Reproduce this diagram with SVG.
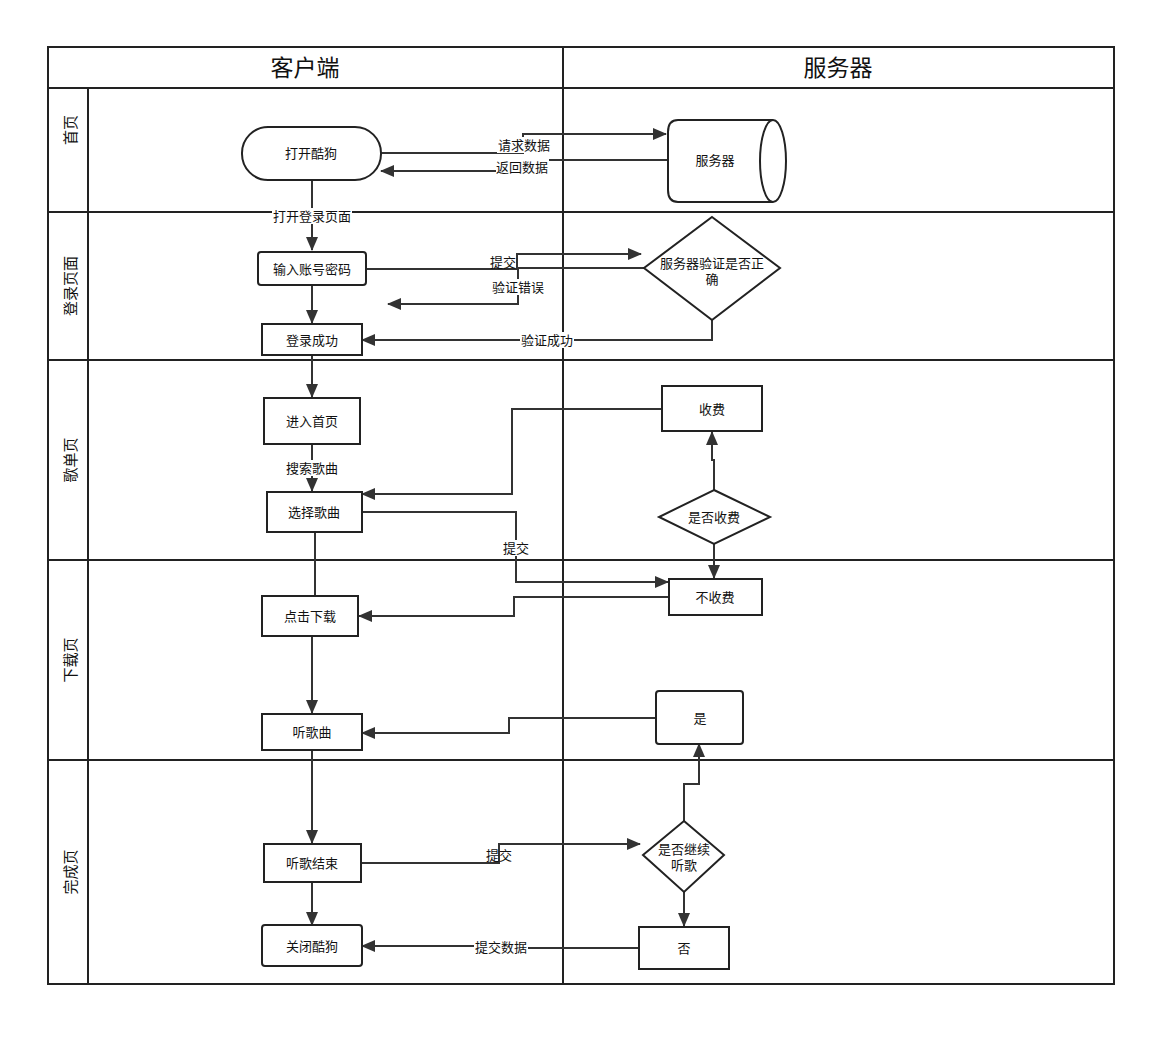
<svg xmlns="http://www.w3.org/2000/svg" width="1176" height="1047" viewBox="0 0 1176 1047">
<style>
text{font-family:"Liberation Sans","Noto Sans CJK SC",sans-serif;fill:#111;text-anchor:middle;dominant-baseline:central}
.n{font-size:13px}
.h{font-size:23px}
.l{font-size:15px}
.box{fill:#fff;stroke:#222;stroke-width:2}
.frame{fill:none;stroke:#222;stroke-width:2}
.c{fill:none;stroke:#333;stroke-width:2}
.bg{fill:#fff}
</style>
<defs>
<marker id="a" markerUnits="userSpaceOnUse" markerWidth="14" markerHeight="12" refX="13" refY="6" orient="auto"><path d="M0,0 L14,6 L0,12 Z" fill="#333"/></marker>
</defs>
<rect width="1176" height="1047" fill="#fff"/>
<g id="frame">
<rect class="frame" x="48" y="47" width="1066" height="937"/>
<line class="frame" x1="48" y1="88" x2="1114" y2="88"/>
<line class="frame" x1="563" y1="47" x2="563" y2="984"/>
<line class="frame" x1="88" y1="88" x2="88" y2="984"/>
<line class="frame" x1="48" y1="212" x2="1114" y2="212"/>
<line class="frame" x1="48" y1="360" x2="1114" y2="360"/>
<line class="frame" x1="48" y1="560" x2="1114" y2="560"/>
<line class="frame" x1="48" y1="760" x2="1114" y2="760"/>
<text class="h" x="305" y="68">客户端</text>
<text class="h" x="838" y="68">服务器</text>
<text class="l" transform="translate(70,130) rotate(-90)">首页</text>
<text class="l" transform="translate(70,286) rotate(-90)">登录页面</text>
<text class="l" transform="translate(70,460) rotate(-90)">歌单页</text>
<text class="l" transform="translate(70,660) rotate(-90)">下载页</text>
<text class="l" transform="translate(70,872) rotate(-90)">完成页</text>
</g>
<g id="connectors">
<path class="c" d="M381,153 H523 V134 H666" marker-end="url(#a)"/>
<path class="c" d="M668,160 H522 V171 H381" marker-end="url(#a)"/>
<path class="c" d="M312,180 V250" marker-end="url(#a)"/>
<path class="c" d="M366,269 H517 V254 H641" marker-end="url(#a)"/>
<path class="c" d="M644,268 H518 V304 H388" marker-end="url(#a)"/>
<path class="c" d="M312,285 V323" marker-end="url(#a)"/>
<path class="c" d="M712,320 V340 H362" marker-end="url(#a)"/>
<path class="c" d="M312,355 V397" marker-end="url(#a)"/>
<path class="c" d="M312,444 V491" marker-end="url(#a)"/>
<path class="c" d="M714,490 V460 H712 V432" marker-end="url(#a)"/>
<path class="c" d="M662,409 H512 V494 H362" marker-end="url(#a)"/>
<path class="c" d="M362,512 H516 V582 H668" marker-end="url(#a)"/>
<path class="c" d="M714,544 V578" marker-end="url(#a)"/>
<path class="c" d="M669,597 H514 V616 H359" marker-end="url(#a)"/>
<path class="c" d="M315,532 V596"/>
<path class="c" d="M312,636 V713" marker-end="url(#a)"/>
<path class="c" d="M656,718 H509 V733 H362" marker-end="url(#a)"/>
<path class="c" d="M684,821 V784 H699 V744" marker-end="url(#a)"/>
<path class="c" d="M312,750 V843" marker-end="url(#a)"/>
<path class="c" d="M361,863 H499 V844 H640" marker-end="url(#a)"/>
<path class="c" d="M312,882 V925" marker-end="url(#a)"/>
<path class="c" d="M684,892 V926" marker-end="url(#a)"/>
<path class="c" d="M639,948 H501 V946 H362" marker-end="url(#a)"/>
<rect class="bg" x="497" y="137" width="54" height="16"/>
<text class="n" x="524" y="145">请求数据</text>
<rect class="bg" x="496" y="159" width="53" height="16"/>
<text class="n" x="522" y="167">返回数据</text>
<rect class="bg" x="272" y="208" width="80" height="16"/>
<text class="n" x="312" y="216">打开登录页面</text>
<text class="n" x="503" y="262">提交</text>
<rect class="bg" x="491" y="279" width="54" height="16"/>
<text class="n" x="518" y="287">验证错误</text>
<rect class="bg" x="520" y="332" width="54" height="16"/>
<text class="n" x="547" y="340">验证成功</text>
<rect class="bg" x="285" y="460" width="54" height="16"/>
<text class="n" x="312" y="468">搜索歌曲</text>
<rect class="bg" x="502" y="540" width="28" height="16"/>
<text class="n" x="516" y="548">提交</text>
<text class="n" x="499" y="855">提交</text>
<rect class="bg" x="474" y="939" width="54" height="16"/>
<text class="n" x="501" y="947">提交数据</text>
</g>
<g id="n-open"><rect class="box" x="242" y="127" width="139" height="53" rx="26"/><text class="n" x="311" y="153">打开酷狗</text></g>
<g id="n-server">
<path class="box" d="M678,120 H773 A13,41 0 0 1 773,202 H678 Q668,202 668,190 V132 Q668,120 678,120 Z"/>
<path class="c" style="stroke:#222" d="M773,120 A13,41 0 0 0 773,202"/>
<text class="n" x="715" y="160">服务器</text>
</g>
<g id="n-input"><rect class="box" x="258" y="252" width="108" height="33" rx="3"/><text class="n" x="312" y="269">输入账号密码</text></g>
<g id="n-verify"><path class="box" d="M712,217 L780,268 L712,320 L644,268 Z"/><text class="n" x="712" y="263">服务器验证是否正</text><text class="n" x="712" y="279">确</text></g>
<g id="n-login-ok"><rect class="box" x="262" y="324" width="100" height="31"/><text class="n" x="312" y="340">登录成功</text></g>
<g id="n-home"><rect class="box" x="264" y="398" width="96" height="46"/><text class="n" x="312" y="421">进入首页</text></g>
<g id="n-select"><rect class="box" x="267" y="492" width="95" height="40"/><text class="n" x="314" y="512">选择歌曲</text></g>
<g id="n-charge"><rect class="box" x="662" y="386" width="100" height="45"/><text class="n" x="712" y="409">收费</text></g>
<g id="n-ischarge"><path class="box" d="M714,490 L770,517 L714,544 L659,517 Z"/><text class="n" x="714" y="517">是否收费</text></g>
<g id="n-free"><rect class="box" x="669" y="579" width="93" height="36"/><text class="n" x="715" y="597">不收费</text></g>
<g id="n-download"><rect class="box" x="262" y="596" width="96" height="40"/><text class="n" x="310" y="616">点击下载</text></g>
<g id="n-listen"><rect class="box" x="262" y="714" width="100" height="36"/><text class="n" x="312" y="732">听歌曲</text></g>
<g id="n-yes"><rect class="box" x="656" y="691" width="87" height="53" rx="3"/><text class="n" x="700" y="718">是</text></g>
<g id="n-continue"><path class="box" d="M684,821 L724,855 L684,892 L643,855 Z"/><text class="n" x="684" y="849">是否继续</text><text class="n" x="684" y="865">听歌</text></g>
<g id="n-end"><rect class="box" x="264" y="844" width="97" height="38"/><text class="n" x="312" y="863">听歌结束</text></g>
<g id="n-close"><rect class="box" x="262" y="925" width="100" height="41" rx="3"/><text class="n" x="312" y="946">关闭酷狗</text></g>
<g id="n-no"><rect class="box" x="639" y="927" width="90" height="42"/><text class="n" x="684" y="948">否</text></g>
</svg>
